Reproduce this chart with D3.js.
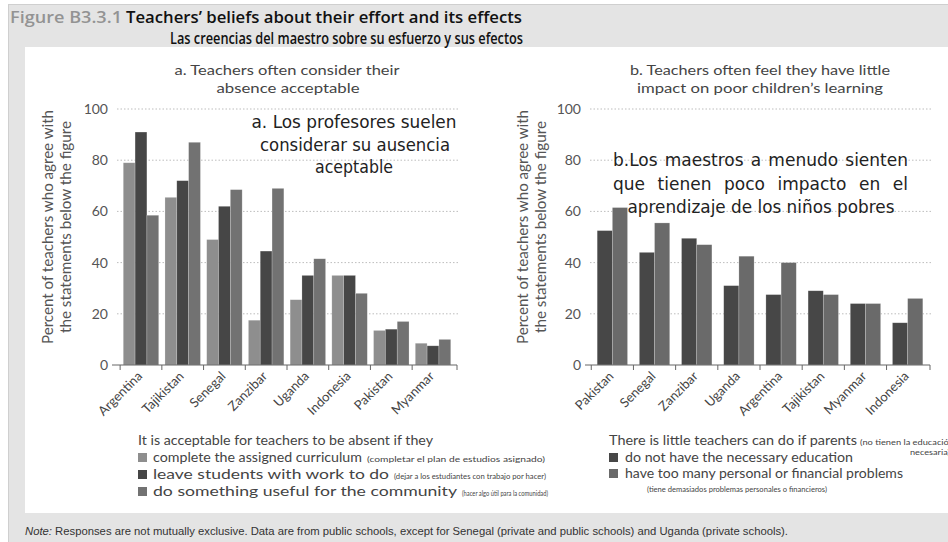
<!DOCTYPE html>
<html>
<head>
<meta charset="utf-8">
<script src="https://cdn.jsdelivr.net/npm/d3@7"></script>
<style>
  body { margin: 0; background: #fff; }
  svg { display: block; font-family: Lato, "Open Sans", sans-serif; }
</style>
</head>
<body>
<svg id="chart" width="948" height="542"></svg>
<script>
// panel a
const countriesA = ["Argentina", "Tajikistan", "Senegal", "Zanzibar", "Uganda", "Indonesia", "Pakistan", "Myanmar"];
const curriculumA = [79, 65.5, 49, 17.5, 25.5, 35, 13.5, 8.5];
const workToDoA = [91, 72, 62, 44.5, 35, 35, 14, 7.5];
const communityA = [58.5, 87, 68.5, 69, 41.5, 28, 17, 10];

// panel b
const countriesB = ["Pakistan", "Senegal", "Zanzibar", "Uganda", "Argentina", "Tajikistan", "Myanmar", "Indonesia"];
const educationB = [52.5, 44, 49.5, 31, 27.5, 29, 24, 16.5];
const problemsB = [61.5, 55.5, 47, 42.5, 40, 27.5, 24, 26];

const yTicks = [0, 20, 40, 60, 80, 100];

const svg = d3.select("#chart");

// stretch / squeeze a text to a measured width
function fit(sel, w) {
  sel.attr("textLength", w).attr("lengthAdjust", "spacingAndGlyphs");
  return sel;
}

function txt(x, y, s, size, opts = {}) {
  const t = svg.append("text")
    .attr("x", x).attr("y", y)
    .attr("font-size", size)
    .attr("fill", opts.fill || "#444")
    .attr("text-anchor", opts.anchor || "start")
    .text(s);
  if (opts.family) t.attr("font-family", opts.family);
  if (opts.weight) t.attr("font-weight", opts.weight);
  if (opts.style) t.attr("font-style", opts.style);
  if (opts.w) fit(t, opts.w);
  return t;
}

// frame
svg.append("rect").attr("x", 8.5).attr("y", 4.5).attr("width", 945).attr("height", 545)
  .attr("fill", "#e4e4e4").attr("stroke", "#cfcfcf");
svg.append("rect").attr("x", 25).attr("y", 47).attr("width", 930).attr("height", 466)
  .attr("fill", "#fff");

// titles
txt(10, 23, "Figure B3.3.1", 17, { fill: "#939393", weight: 600, family: "Open Sans", w: 112 });
txt(126, 23, "Teachers’ beliefs about their effort and its effects", 17, { fill: "#111", weight: 600, family: "Open Sans", w: 396 });
txt(170, 44, "Las creencias del maestro sobre su esfuerzo y sus efectos", 16, { fill: "#111", weight: 600, family: "Open Sans", w: 353 });

function panel(cfg) {
  const x0 = d3.scaleBand().domain(cfg.countries).range(cfg.xRange)
    .paddingInner(cfg.padIn).paddingOuter(cfg.padOut);
  const x1 = d3.scaleBand().domain(d3.range(cfg.series.length)).range([0, x0.bandwidth()]);
  const y = d3.scaleLinear().domain([0, 100]).range([365, 109]);

  const g = svg.append("g");

  // dotted grid
  g.selectAll(".grid").data(yTicks.filter(d => d > 0)).join("line")
    .attr("x1", cfg.xRange[0]).attr("x2", cfg.gridEnd)
    .attr("y1", d => y(d)).attr("y2", d => y(d))
    .attr("stroke", "#bdbdbd").attr("stroke-dasharray", "1.5,2");

  // y tick labels
  g.selectAll(".yl").data(yTicks).join("text")
    .attr("x", cfg.xRange[0] - 9).attr("y", d => y(d) + 5)
    .attr("text-anchor", "end").attr("font-size", 14).attr("fill", "#555")
    .text(d => d);
  g.append("line").attr("x1", cfg.xRange[0] - 5).attr("x2", cfg.xRange[0])
    .attr("y1", y(0)).attr("y2", y(0)).attr("stroke", "#666");

  // bars
  const groups = g.selectAll(".grp").data(cfg.countries).join("g")
    .attr("transform", d => `translate(${x0(d)},0)`);
  groups.selectAll("rect")
    .data((d, i) => cfg.series.map((s, k) => ({ k, v: s.values[i] })))
    .join("rect")
    .attr("x", d => x1(d.k)).attr("width", x1.bandwidth())
    .attr("y", d => y(d.v)).attr("height", d => y(0) - y(d.v))
    .attr("fill", d => cfg.series[d.k].color)
    .attr("stroke", "rgba(255,255,255,0.35)").attr("stroke-width", 0.6);

  // x axis
  const step = x0.step();
  g.append("line").attr("x1", cfg.xRange[0]).attr("x2", cfg.xRange[1])
    .attr("y1", y(0)).attr("y2", y(0)).attr("stroke", "#666").attr("stroke-width", 1.2);
  g.selectAll(".xt").data(cfg.countries).join("line")
    .attr("x1", d => x0(d) - (step - x0.bandwidth()) / 2)
    .attr("x2", d => x0(d) - (step - x0.bandwidth()) / 2)
    .attr("y1", y(0)).attr("y2", y(0) + 5).attr("stroke", "#666");
  g.append("line")
    .attr("x1", cfg.xRange[1]).attr("x2", cfg.xRange[1])
    .attr("y1", y(0)).attr("y2", y(0) + 5).attr("stroke", "#666");

  g.selectAll(".xl").data(cfg.countries).join("text")
    .attr("transform", d => `translate(${x0(d) + x0.bandwidth() / 2 + 2},${y(0) + 12}) rotate(-45)`)
    .attr("text-anchor", "end").attr("font-size", 13).attr("fill", "#444")
    .text(d => d);

  // y axis title
  const ya = g.append("g").attr("transform", `translate(${cfg.yTitleX},227) rotate(-90)`);
  ya.append("text").attr("text-anchor", "middle").attr("y", 0)
    .attr("font-size", 15).attr("fill", "#555").text("Percent of teachers who agree with")
    .call(fit, 234);
  ya.append("text").attr("text-anchor", "middle").attr("y", 18)
    .attr("font-size", 15).attr("fill", "#555").text("the statements below the figure")
    .call(fit, 212);

  return { x0, y };
}

panel({
  countries: countriesA,
  series: [
    { values: curriculumA, color: "#8e8e8e" },
    { values: workToDoA, color: "#464646" },
    { values: communityA, color: "#727272" }
  ],
  xRange: [117, 457], gridEnd: 460, padIn: 0.15, padOut: 0.15, yTitleX: 53
});

panel({
  countries: countriesB,
  series: [
    { values: educationB, color: "#474747" },
    { values: problemsB, color: "#6a6a6a" }
  ],
  xRange: [590, 930], gridEnd: 933, padIn: 0.28, padOut: 0.17, yTitleX: 528
});

// panel subtitles
txt(287, 75, "a. Teachers often consider their", 14, { anchor: "middle", w: 225 });
txt(288, 93, "absence acceptable", 14, { anchor: "middle", w: 143 });
txt(760, 75, "b. Teachers often feel they have little", 14, { anchor: "middle", w: 260 });
txt(760, 93, "impact on poor children’s learning", 14, { anchor: "middle", w: 246 });

// Spanish overlays
const sp = { fill: "#222", family: "DejaVu Sans", anchor: "middle" };
txt(354, 128, "a. Los profesores suelen", 17, { ...sp, w: 205 });
txt(355, 151, "considerar su ausencia", 17, { ...sp, w: 190 });
txt(354, 173, "aceptable", 17, { ...sp, w: 78 });

function justify(x1, x2, yy, s) {
  const words = s.split(" ");
  const nodes = words.map(wd => svg.append("text").attr("y", yy).attr("font-size", 17)
    .attr("font-family", "DejaVu Sans").attr("fill", "#222").text(wd));
  const widths = nodes.map(n => n.node().getComputedTextLength());
  const gap = (x2 - x1 - d3.sum(widths)) / (words.length - 1);
  let cx = x1;
  nodes.forEach((n, i) => { n.attr("x", cx); cx += widths[i] + gap; });
}
justify(613, 908, 166, "b.Los maestros a menudo sienten");
justify(613, 908, 190, "que tienen poco impacto en el");
txt(761, 213, "aprendizaje de los niños pobres", 17, { ...sp, w: 267 });

// legend a
txt(138, 445, "It is acceptable for teachers to be absent if they", 13, { fill: "#444", w: 295 });
const legA = [
  { c: "#8e8e8e", t: "complete the assigned curriculum", tw: 209, s: "(completar el plan de estudios asignado)", sw: 178 },
  { c: "#464646", t: "leave students with work to do", tw: 236, s: "(dejar a los estudiantes con trabajo por hacer)", sw: 152 },
  { c: "#727272", t: "do something useful for the community", tw: 304, s: "(hacer algo útil para la comunidad)", sw: 86 }
];
legA.forEach((d, i) => {
  const yy = 462 + i * 17;
  svg.append("rect").attr("x", 138).attr("y", yy - 9).attr("width", 9).attr("height", 9).attr("fill", d.c);
  txt(153, yy, d.t, 14, { fill: "#444", w: d.tw });
  txt(153 + d.tw + 5, yy, d.s, 7, { fill: "#444", w: d.sw });
});

// legend b
txt(609, 445, "There is little teachers can do if parents", 13, { fill: "#444", w: 248 });
txt(860, 445, "(no tienen la educación", 7, { fill: "#444", w: 94 });
txt(910, 455, "necesaria)", 7, { fill: "#444", w: 40 });
const legB = [
  { c: "#474747", t: "do not have the necessary education", tw: 228 },
  { c: "#6a6a6a", t: "have too many personal or financial problems", tw: 278 }
];
legB.forEach((d, i) => {
  const yy = 462 + i * 16;
  svg.append("rect").attr("x", 609).attr("y", yy - 9).attr("width", 9).attr("height", 9).attr("fill", d.c);
  txt(625, yy, d.t, 14, { fill: "#444", w: d.tw });
});
txt(647, 492, "(tiene demasiados problemas personales o financieros)", 7, { fill: "#444", w: 180 });

// note
const note = svg.append("text").attr("x", 25).attr("y", 535).attr("font-size", 11)
  .attr("fill", "#333").attr("font-family", "Liberation Sans Narrow, Liberation Sans, sans-serif");
note.append("tspan").attr("font-style", "italic").text("Note: ");
note.append("tspan").text("Responses are not mutually exclusive. Data are from public schools, except for Senegal (private and public schools) and Uganda (private schools).");
fit(note, 763);
</script>
</body>
</html>
